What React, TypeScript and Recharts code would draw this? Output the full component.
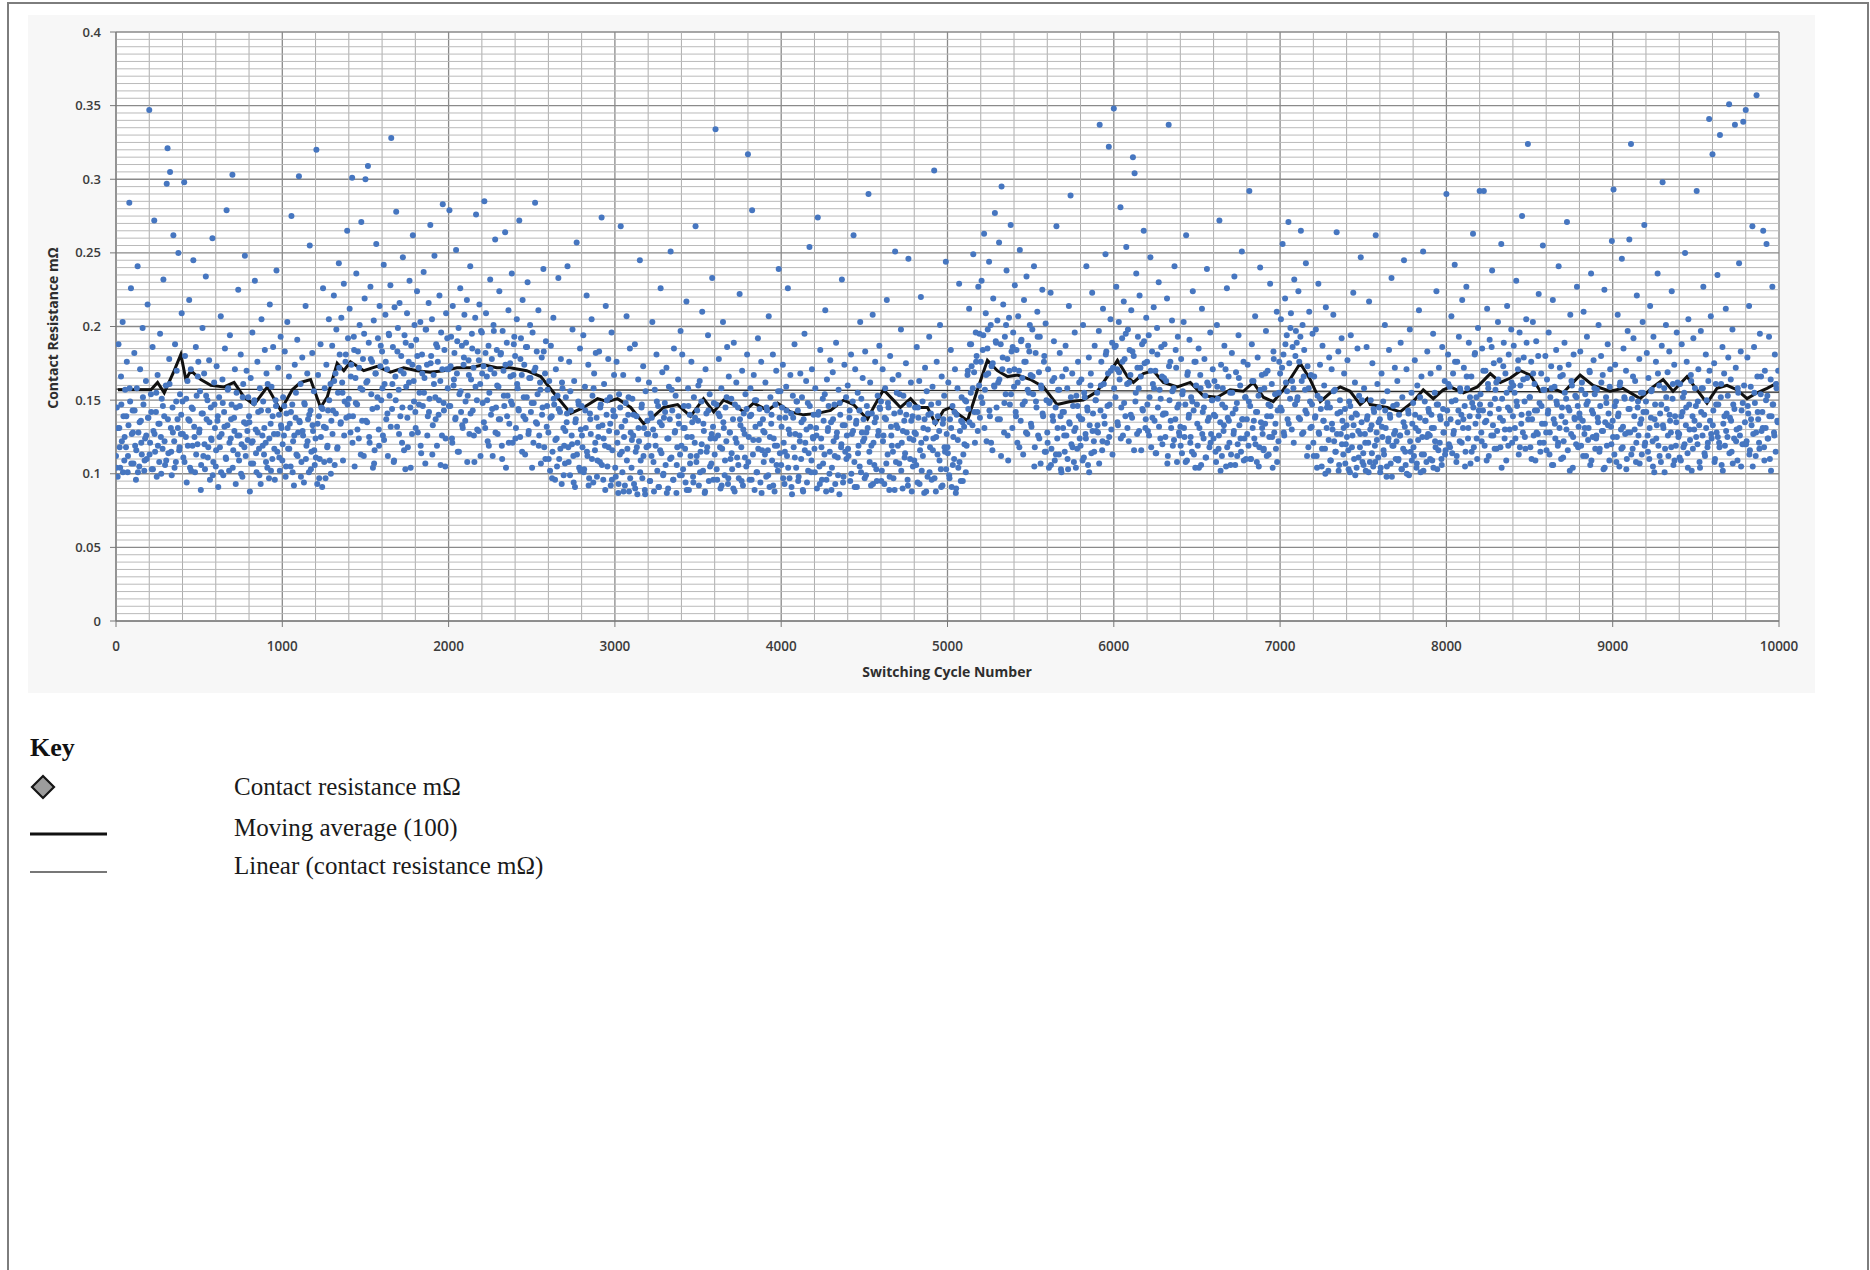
import React from 'react'
import {
  ComposedChart,
  Scatter,
  Line,
  XAxis,
  YAxis,
  CartesianGrid,
  ReferenceLine,
} from 'recharts'

const SAMPLE_STEP = 5

const samples0000 = [
  112,145,98,188,131,104,166,122,203,139,109,157,118,176,101,133,284,149,226,127,
  143,107,182,119,96,158,241,128,105,171,136,113,199,147,102,124,163,110,215,138,
  347,121,154,103,186,129,272,115,142,98,167,134,108,195,125,151,117,232,139,106,
  160,297,321,114,178,305,131,99,145,262,122,188,108,170,137,250,116,154,127,209,
  149,111,298,180,125,94,163,137,218,104,171,145,119,245,132,101,186,153,120,176,
  128,156,89,141,199,112,168,103,234,137,150,118,177,96,145,123,260,108,162,131,
  105,173,136,91,152,118,207,127,164,99,142,185,111,279,133,158,102,194,124,147,
  303,116,138,171,93,155,126,225,109,146,181,120,98,161,135,248,112,170,129,152,
  139,88,165,121,196,107,148,231,130,101,176,142,117,158,93,205,126,149,113,184,
  121,168,104,143,97,215,134,159,110,186,127,96,150,238,115,172,140,102,193,131,
  109,152,126,183,98,141,203,117,166,134,105,275,147,122,92,174,138,113,191,128,
  302,135,161,108,179,126,94,147,214,119,168,137,101,255,143,115,182,129,156,106,
  124,320,93,167,139,110,188,145,91,226,132,158,97,174,118,143,205,109,161,136,
  187,143,221,106,168,198,117,155,243,181,134,206,162,109,229,149,176,138,265,192,
  151,212,128,174,301,139,193,105,165,236,147,183,124,201,158,271,136,178,112,219,
  300,162,135,309,189,121,227,154,176,104,204,116,168,256,145,192,130,214,173,150,
  183,126,242,161,208,137,171,112,195,153,228,328,144,186,108,213,166,278,132,199,
  157,216,139,180,121,247,168,194,103,159,209,118,176,231,145,187,127,262,163,201,
  142,191,224,128,172,155,203,114,181,146,237,165,107,198,174,139,216,151,269,180,
  205,133,167,248,152,188,119,176,140,221,163,196,126,283,148,184,105,209,171,158,
  171,279,146,193,124,214,160,182,137,252,168,115,199,154,226,142,187,131,174,208,
  136,189,218,153,177,127,241,164,195,143,172,108,206,276,150,183,129,215,161,197,
  196,148,173,285,131,209,166,122,187,155,232,140,178,112,201,168,259,145,184,127,
  159,224,137,182,119,197,170,146,264,104,189,153,211,134,175,149,236,121,167,193,
  180,131,205,158,144,272,125,192,167,218,139,174,113,186,152,230,127,165,201,142,
]

const samples2500 = [
  148,196,121,170,284,135,183,154,211,126,162,107,179,145,239,118,168,190,132,157,
  128,163,102,187,139,115,206,147,96,171,124,153,233,110,142,178,93,158,131,119,
  107,152,135,241,118,176,99,143,126,198,112,163,91,137,257,121,149,104,185,130,
  146,118,194,103,159,131,221,112,174,97,141,127,205,153,94,168,116,182,138,109,
  125,183,108,147,274,133,96,161,119,214,140,105,178,129,152,92,196,116,143,167,
  139,98,176,121,87,154,113,268,132,101,167,125,92,148,207,117,140,88,185,128,
  104,151,126,93,188,115,139,86,164,122,245,109,145,97,173,131,89,156,118,136,
  127,162,95,141,112,203,130,88,157,119,181,102,146,91,135,226,114,169,99,138,
  148,106,172,124,90,159,137,251,111,143,96,185,128,153,87,118,164,134,99,197,
  119,181,103,146,131,94,217,125,158,89,140,112,176,135,98,152,121,268,108,143,
  136,92,163,115,149,210,102,129,87,171,141,118,194,95,154,124,107,233,132,148,
  113,334,147,96,126,178,139,90,158,117,203,131,99,145,122,186,93,166,128,110,
  151,103,137,189,88,124,162,111,145,97,222,133,118,170,92,141,127,154,105,181,
  317,125,96,158,140,279,113,167,89,132,150,101,192,123,144,94,176,116,137,108,
  128,162,98,143,116,207,91,152,134,109,181,124,88,147,170,119,102,239,138,156,
  106,145,174,121,93,138,159,112,226,130,97,167,141,86,153,118,188,127,104,149,
  143,98,126,168,110,152,89,137,195,121,163,94,148,114,254,132,101,171,125,140,
  117,158,131,90,274,142,105,184,124,96,151,136,113,211,88,164,129,146,100,177,
  135,104,169,122,147,93,189,128,111,157,86,140,118,232,133,98,174,115,152,126,
  160,112,138,95,181,127,149,262,108,171,134,91,155,119,143,203,101,128,165,137,
  124,183,99,146,131,290,115,162,92,141,208,121,106,176,138,95,153,129,187,144,
  149,102,171,126,93,158,137,218,113,145,89,180,132,119,164,97,141,251,108,155,
  131,167,107,142,198,121,90,153,136,114,175,128,96,246,147,110,162,88,139,123,
  109,145,127,186,94,138,163,116,220,102,149,131,87,172,124,156,98,140,193,118,
  141,96,159,124,306,135,88,176,113,148,129,201,103,166,92,137,153,115,244,127,
]

const samples5000 = [
  118,162,99,137,184,91,146,125,110,171,87,140,158,104,229,129,95,152,135,113,
  132,150,101,119,167,144,212,188,155,173,133,249,169,121,196,180,142,227,160,138,
  176,231,148,194,263,157,209,122,185,168,244,139,201,173,116,219,160,277,190,145,
  204,162,257,137,188,295,171,215,128,193,154,238,178,109,206,147,269,183,131,196,
  159,228,142,184,121,207,170,252,136,191,165,113,218,149,176,234,127,187,155,201,
  167,132,198,154,241,118,182,145,210,126,169,193,107,158,225,139,176,115,202,150,
  128,171,104,149,223,117,163,136,190,109,145,268,124,157,113,182,139,101,166,131,
  142,115,187,126,158,103,214,134,289,120,168,146,108,196,131,153,117,176,139,124,
  119,164,137,201,111,152,127,241,145,106,179,133,160,114,223,141,122,187,150,129,
  155,128,197,337,143,176,116,212,161,134,249,183,121,168,322,147,205,130,189,172,
  348,186,152,227,171,133,203,164,281,145,192,126,217,178,139,254,161,198,122,184,
  167,211,138,315,180,304,149,236,127,193,158,221,172,116,188,143,265,175,131,206,
  176,129,194,152,247,118,183,161,213,136,170,114,199,145,230,157,124,186,166,140,
  141,188,125,163,219,112,337,150,176,131,204,119,158,241,137,172,108,193,147,126,
  132,178,114,156,203,125,147,262,109,169,138,191,121,152,115,224,143,176,104,160,
  147,119,185,131,167,106,212,142,124,178,153,111,239,136,160,118,196,127,150,171,
  124,163,139,108,201,151,117,272,135,174,112,158,129,187,145,105,226,138,166,121,
  155,113,182,141,127,234,106,169,148,120,194,133,160,115,251,137,176,124,152,110,
  137,174,119,292,146,110,188,131,163,124,207,142,108,179,153,118,240,135,167,127,
  116,158,134,197,112,170,147,125,229,139,161,104,183,128,154,117,210,143,122,176,
  168,205,143,256,181,126,219,162,194,137,271,175,151,209,130,186,158,232,147,197,
  189,152,224,176,137,265,163,201,128,184,157,243,141,173,118,210,149,167,132,195,
  121,166,138,198,112,153,229,127,174,144,105,187,136,160,117,213,131,148,102,179,
  145,109,171,130,208,122,157,115,264,141,183,106,150,127,192,136,113,168,144,120,
  133,177,116,149,101,194,138,126,223,110,162,141,104,185,129,153,118,247,135,108,
]

const samples7500 = [
  114,158,127,102,186,139,121,217,108,150,133,175,105,142,119,262,128,161,111,145,
  137,104,168,125,149,113,201,131,98,156,122,184,140,107,233,119,146,127,172,110,
  122,163,109,140,126,189,103,152,117,245,132,106,171,128,143,99,198,115,155,134,
  148,112,177,131,104,160,123,211,138,101,166,125,251,113,149,136,108,183,127,142,
  126,168,140,109,195,131,155,118,224,103,147,172,121,137,110,186,144,128,163,116,
  290,143,181,120,159,137,207,114,168,129,242,150,108,176,135,193,122,156,140,218,
  131,172,146,115,227,158,124,189,139,107,166,148,263,118,181,134,152,110,199,143,
  292,154,128,185,143,292,119,170,136,212,161,112,191,147,126,238,133,175,117,157,
  162,129,203,144,177,118,256,151,136,189,124,168,109,214,145,181,130,158,198,121,
  139,187,155,124,231,146,171,113,196,160,134,275,128,179,149,117,205,165,324,141,
  152,118,176,137,203,126,161,109,190,143,127,222,148,115,168,134,255,121,157,180,
  128,164,141,196,113,152,173,106,218,137,159,124,184,147,119,241,131,166,110,145,
  167,122,189,135,151,271,116,174,143,208,127,160,104,181,138,153,120,227,146,132,
  141,183,119,162,136,210,127,154,112,193,149,131,170,106,236,143,125,177,158,117,
  124,157,138,201,115,146,180,129,167,103,225,135,152,119,188,141,109,171,132,258,
  136,293,113,174,149,125,208,141,105,162,130,246,118,185,152,127,170,110,197,144,
  259,128,324,151,117,192,139,163,108,221,145,126,178,134,155,113,203,142,269,121,
  149,182,126,165,110,214,138,157,122,193,101,147,176,133,236,119,160,141,108,187,
  298,131,158,117,201,144,169,112,183,136,128,224,151,106,174,139,119,196,162,125,
  127,161,109,188,142,118,155,250,133,176,114,205,147,123,167,102,139,192,130,158,
  146,292,120,171,133,104,197,158,126,227,140,112,181,150,118,163,341,136,207,124,
  317,143,175,110,161,128,235,147,121,330,152,106,186,134,168,119,212,141,125,179,
  351,138,164,115,198,147,124,337,172,130,109,155,243,126,183,143,120,339,160,135,
  347,122,179,141,214,116,159,133,268,127,186,148,112,357,166,137,121,195,154,129,
  142,265,118,170,131,256,153,124,193,110,164,139,227,147,128,181,115,158,136,170,
]

// the dense core of the band, read every 10th cycle (offset by 2), in µΩ
const CORE_STEP = 10
const CORE_OFFSET = 2

const coreSamples = [
  104,131,118,147,101,125,139,112,158,107,128,143,116,101,135,121,152,109,126,138,
  113,142,103,127,155,119,134,100,146,122,109,137,161,115,128,104,149,131,118,140,
  127,108,151,119,136,102,144,125,113,166,130,106,141,120,153,111,135,124,99,147,
  116,139,125,101,148,132,110,157,121,137,104,129,145,113,126,100,152,118,134,123,
  135,107,122,150,114,128,99,143,119,131,108,161,124,102,139,117,146,127,111,133,
  120,146,105,131,117,142,101,126,155,112,136,98,129,148,110,122,140,103,133,116,
  111,134,97,125,144,108,131,119,150,100,127,163,141,118,172,135,155,126,181,147,
  139,166,121,184,148,130,172,113,157,195,136,163,125,178,144,107,168,152,119,187,
  158,123,176,141,194,132,161,109,150,183,127,170,145,116,189,138,162,104,174,149,
  131,180,147,119,168,155,198,126,142,175,113,161,137,186,150,106,171,143,124,192,
  146,173,121,164,138,190,115,156,133,179,149,108,167,141,185,126,159,130,177,112,
  168,135,182,150,119,171,144,197,128,160,137,181,110,153,174,139,121,166,147,188,
  124,161,143,178,115,152,137,186,129,165,104,148,172,134,119,157,140,183,110,146,
  110,138,97,151,123,105,144,117,162,99,129,141,108,156,120,94,135,113,147,102,
  126,101,143,115,92,137,110,158,121,98,132,145,106,124,89,150,118,134,96,139,
  104,128,93,145,115,88,136,109,152,97,123,140,90,118,131,101,147,112,86,127,
  119,95,138,108,126,149,91,116,133,100,142,87,124,110,157,96,129,106,139,113,
  99,131,117,89,146,107,125,94,138,112,160,101,120,134,88,115,143,105,127,96,
  124,103,141,118,92,135,109,152,97,128,114,90,147,121,106,137,95,130,111,144,
  108,139,96,123,150,101,117,134,87,129,113,145,99,125,140,92,119,106,156,114,
  132,97,115,143,104,127,91,138,111,149,95,122,135,88,116,130,102,146,109,124,
  101,126,140,93,118,107,154,96,131,115,89,137,112,125,99,148,120,94,133,110,
  117,143,100,129,91,136,114,105,151,122,97,128,141,108,119,93,135,103,126,145,
  95,122,138,107,148,98,126,115,89,133,119,154,102,129,111,140,92,124,136,105,
  128,106,145,93,121,112,137,88,130,101,147,116,97,125,139,109,91,134,118,103,
  114,97,131,106,142,90,123,108,136,95,120,149,170,135,188,158,142,176,129,195,
  152,184,131,167,198,143,121,175,159,189,137,164,112,179,148,201,126,170,154,186,
  171,139,162,118,190,147,176,128,157,183,134,166,105,149,193,124,160,141,180,115,
  121,148,106,139,165,113,131,157,103,142,126,171,110,135,152,118,129,104,146,162,
  137,109,155,124,143,101,168,129,115,150,133,107,160,122,139,181,146,125,170,113,
  158,187,135,169,124,176,148,195,131,162,140,183,116,155,172,129,166,144,190,137,
  147,126,170,138,158,114,181,132,151,120,165,141,107,173,136,156,123,184,145,128,
  119,154,131,108,167,140,125,149,113,176,134,104,158,127,145,111,162,138,121,150,
  140,115,159,126,102,147,133,171,118,136,106,155,129,144,112,165,124,137,109,152,
  127,149,110,163,136,120,142,105,157,131,117,168,139,113,146,125,178,134,108,155,
  145,172,128,188,156,134,199,163,121,180,150,138,193,127,166,143,112,158,131,147,
  112,139,104,128,151,117,136,100,145,123,109,134,156,115,127,102,142,120,131,107,
  125,103,146,118,133,99,140,111,127,150,106,121,137,101,130,114,144,108,123,135,
  101,132,116,143,105,124,138,98,119,129,147,110,126,103,135,115,100,141,122,109,
  118,140,107,129,152,113,102,136,125,144,110,131,104,122,147,116,139,106,128,113,
  134,161,118,149,127,176,112,143,158,121,137,105,166,131,152,115,145,182,124,139,
  147,122,170,135,109,158,141,186,126,151,117,164,138,104,173,130,155,119,143,162,
  160,131,149,177,118,140,164,125,189,137,152,110,168,143,128,180,121,146,157,134,
  116,143,128,158,106,134,149,121,172,139,111,155,130,145,102,163,125,137,152,118,
  138,157,112,131,147,123,169,109,141,154,126,135,117,162,129,104,148,133,159,120,
  125,146,108,139,160,117,132,151,103,128,144,113,166,130,121,149,107,137,155,119,
  142,115,131,156,105,137,124,168,112,147,133,101,152,126,140,118,161,109,135,128,
  111,139,152,120,145,104,130,163,117,136,125,149,108,142,158,114,131,121,170,127,
  133,108,147,125,118,161,102,139,129,153,114,136,107,144,122,158,131,105,148,120,
  120,146,113,137,105,155,128,142,117,166,131,109,150,124,139,102,147,126,161,135,
]

// moving average (100): [cycle, mΩ]
const movingAverage = [
  [12,0.157],[210,0.157],[250,0.162],[290,0.155],[350,0.170],[390,0.181],[420,0.164],[450,0.170],
  [510,0.164],[570,0.160],[650,0.159],[710,0.162],[770,0.152],[830,0.147],[910,0.159],[990,0.143],
  [1060,0.157],[1110,0.162],[1170,0.164],[1230,0.145],[1270,0.152],[1330,0.175],[1370,0.170],
  [1410,0.176],[1490,0.170],[1570,0.173],[1650,0.169],[1730,0.172],[1810,0.170],[1890,0.169],
  [1970,0.170],[2050,0.172],[2130,0.172],[2210,0.174],[2290,0.172],[2370,0.172],[2470,0.170],
  [2554,0.166],[2632,0.155],[2734,0.141],[2812,0.145],[2896,0.151],[2956,0.149],[3016,0.151],
  [3095,0.145],[3173,0.134],[3233,0.139],[3293,0.145],[3377,0.147],[3455,0.139],[3533,0.151],
  [3594,0.142],[3654,0.150],[3714,0.147],[3774,0.142],[3834,0.148],[3918,0.143],[3978,0.148],
  [4056,0.142],[4134,0.140],[4218,0.141],[4297,0.143],[4375,0.150],[4435,0.147],[4519,0.137],
  [4555,0.145],[4615,0.157],[4675,0.150],[4717,0.145],[4778,0.151],[4826,0.145],[4880,0.145],
  [4928,0.134],[4976,0.143],[5018,0.145],[5060,0.141],[5120,0.136],[5180,0.157],[5240,0.177],
  [5300,0.170],[5361,0.166],[5421,0.167],[5499,0.164],[5577,0.159],[5659,0.147],[5739,0.149],
  [5817,0.150],[5901,0.156],[5961,0.166],[6022,0.177],[6082,0.166],[6118,0.162],[6178,0.168],
  [6238,0.170],[6298,0.162],[6382,0.159],[6460,0.162],[6538,0.153],[6622,0.152],[6700,0.157],
  [6779,0.156],[6839,0.162],[6899,0.152],[6959,0.149],[7019,0.157],[7121,0.175],[7181,0.164],
  [7242,0.149],[7302,0.155],[7362,0.159],[7421,0.156],[7482,0.147],[7524,0.151],[7542,0.147],
  [7644,0.145],[7722,0.142],[7800,0.149],[7861,0.157],[7921,0.151],[7981,0.157],[8024,0.159],
  [8102,0.155],[8186,0.159],[8264,0.168],[8325,0.162],[8385,0.165],[8445,0.170],[8505,0.167],
  [8565,0.156],[8642,0.158],[8702,0.155],[8804,0.167],[8882,0.160],[8984,0.156],[9062,0.158],
  [9165,0.151],[9243,0.159],[9303,0.164],[9363,0.156],[9447,0.166],[9507,0.157],[9567,0.148],
  [9627,0.158],[9687,0.160],[9748,0.157],[9808,0.151],[9868,0.155],[9928,0.158],[9994,0.162],
]

// linear trend line end points: [cycle, mΩ]
const linearTrend = [
  [0, 0.1575],
  [10000, 0.1555],
]

const xTicks = [0, 1000, 2000, 3000, 4000, 5000, 6000, 7000, 8000, 9000, 10000]
const yTicks = [0, 0.05, 0.1, 0.15, 0.2, 0.25, 0.3, 0.35, 0.4]

// minor gridlines: 5 per 1000 cycles, 10 per 0.05 mΩ
const xMinor: number[] = []
for (let i = 0; i < 10000; i += 200) if (i % 1000 !== 0) xMinor.push(i)
const yMinor: number[] = []
for (let i = 0; i < 80; i++) if (i % 10 !== 0) yMinor.push(Number((i * 0.005).toFixed(3)))

const scatterData = [...samples0000, ...samples2500, ...samples5000, ...samples7500].map(
  (v, i) => ({ x: i * SAMPLE_STEP, y: v / 1000 })
)
const coreData = coreSamples.map((v, i) => ({ x: i * CORE_STEP + CORE_OFFSET, y: v / 1000 }))
const maData = movingAverage.map(([x, y]) => ({ x, y }))
const trendData = linearTrend.map(([x, y]) => ({ x, y }))

const tickFont = { fontSize: 13, fontFamily: 'Open Sans', fill: '#3c3c3c', fontWeight: 600 }

const Dot = (props: any) => <circle cx={props.cx} cy={props.cy} r={3} fill="#4676c0" />

const keyRows: [string, number][] = [
  ['Contact resistance mΩ', 787],
  ['Moving average (100)', 828],
  ['Linear (contact resistance mΩ)', 866],
]

const App = () => {
  return (
    <div style={{ position: 'absolute', left: 0, top: 0, width: 1870, height: 1270, overflow: 'hidden', background: '#fff' }}>
      {/* page frame */}
      <div
        style={{
          position: 'absolute',
          left: 7,
          top: 2,
          width: 1862,
          height: 1320,
          border: '2px solid #7d7d7d',
          boxSizing: 'border-box',
        }}
      />
      {/* chart area */}
      <div style={{ position: 'absolute', left: 28, top: 15, width: 1787, height: 678, background: '#f7f7f7' }}>
        <ComposedChart
          width={1787}
          height={678}
          margin={{ top: 17, right: 36, bottom: 32, left: 28 }}
        >
          <CartesianGrid stroke="#8a8a8a" strokeWidth={1.3} fill="#ffffff" fillOpacity={1} />
          {xMinor.map((v) => (
            <ReferenceLine key={'vx' + v} x={v} stroke="#adadad" strokeWidth={1} />
          ))}
          {yMinor.map((v) => (
            <ReferenceLine key={'hy' + v} y={v} stroke="#bababa" strokeWidth={1} />
          ))}
          <XAxis
            type="number"
            dataKey="x"
            domain={[0, 10000]}
            ticks={xTicks}
            allowDataOverflow
            height={40}
            tick={{ ...tickFont, fontSize: 13.5 }}
            tickSize={6}
            tickMargin={14}
            axisLine={{ stroke: '#777' }}
            tickLine={{ stroke: '#777' }}
          />
          <YAxis
            type="number"
            dataKey="y"
            domain={[0, 0.4]}
            ticks={yTicks}
            allowDataOverflow
            width={60}
            tick={tickFont}
            tickSize={6}
            tickMargin={9}
            axisLine={{ stroke: '#777' }}
            tickLine={{ stroke: '#777' }}
          />
          <Scatter data={coreData} dataKey="y" shape={Dot} isAnimationActive={false} />
          <Scatter data={scatterData} dataKey="y" shape={Dot} isAnimationActive={false} />
          <Line
            data={trendData}
            dataKey="y"
            type="linear"
            stroke="#2a2a2a"
            strokeWidth={1.3}
            dot={false}
            activeDot={false}
            isAnimationActive={false}
          />
          <Line
            data={maData}
            dataKey="y"
            type="linear"
            stroke="#111111"
            strokeWidth={3}
            dot={false}
            activeDot={false}
            isAnimationActive={false}
          />
        </ComposedChart>
      </div>
      {/* axis titles */}
      <div
        style={{
          position: 'absolute',
          left: 52,
          top: 328,
          transform: 'translate(-50%, -50%) rotate(-90deg)',
          whiteSpace: 'nowrap',
          font: 'bold 14px "Open Sans"',
          color: '#2e2e2e',
        }}
      >
        Contact Resistance mΩ
      </div>
      <div
        style={{
          position: 'absolute',
          left: 947,
          top: 671,
          transform: 'translate(-50%, -50%)',
          whiteSpace: 'nowrap',
          font: 'bold 14px "Open Sans"',
          color: '#2e2e2e',
        }}
      >
        Switching Cycle Number
      </div>
      {/* key */}
      <div style={{ position: 'absolute', left: 30, top: 733, font: 'bold 26px "Liberation Serif"', color: '#111', lineHeight: '30px' }}>
        Key
      </div>
      <svg style={{ position: 'absolute', left: 30, top: 774 }} width={26} height={26}>
        <polygon points="13,2 24,13 13,24 2,13" fill="#9c9c9c" stroke="#161616" strokeWidth={2.2} />
      </svg>
      <svg style={{ position: 'absolute', left: 26, top: 825 }} width={90} height={60}>
        <line x1={4} y1={9} x2={81} y2={9} stroke="#111" strokeWidth={3} />
        <line x1={4} y1={47} x2={81} y2={47} stroke="#4a4a4a" strokeWidth={1.5} />
      </svg>
      {keyRows.map(([t, y]) => (
        <div
          key={t}
          style={{
            position: 'absolute',
            left: 234,
            top: y - 15,
            font: '25px "Liberation Serif"',
            color: '#1a1a1a',
            lineHeight: '30px',
            whiteSpace: 'nowrap',
          }}
        >
          {t}
        </div>
      ))}
    </div>
  )
}

export default App
